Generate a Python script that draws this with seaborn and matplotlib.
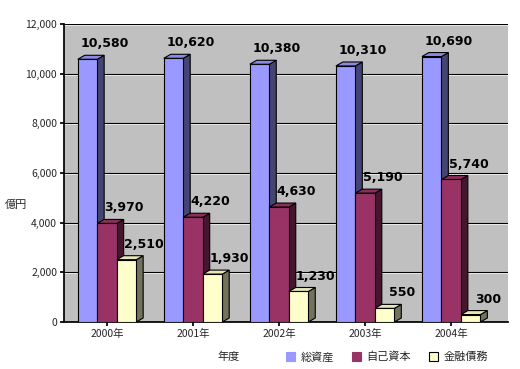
import numpy as np
import pandas as pd
import seaborn as sns
import matplotlib.pyplot as plt
from matplotlib.patches import Polygon, Patch
from matplotlib.colors import to_rgb

years = ['2000年', '2001年', '2002年', '2003年', '2004年']
total_assets = [10580, 10620, 10380, 10310, 10690]
equity = [3970, 4220, 4630, 5190, 5740]
debt = [2510, 1930, 1230, 550, 300]
series = ['総資産', '自己資本', '金融債務']
colors = ['#9999FF', '#993366', '#FFFFCC']

df = pd.DataFrame({'year': years * 3,
                   'series': np.repeat(series, len(years)),
                   'value': total_assets + equity + debt})

sns.set_theme(style='white')
plt.rcParams['font.family'] = ['Noto Sans CJK JP', 'DejaVu Sans']

fig = plt.figure(figsize=(5.2, 3.69), dpi=100)
ax = fig.add_axes([64 / 520, 47 / 369, 444 / 520, 298 / 369])
ax.set_facecolor('#C0C0C0')

sns.barplot(data=df, x='year', y='value', hue='series', palette=colors,
            saturation=1, width=0.68, edgecolor='black', linewidth=0.8,
            legend=False, ax=ax, zorder=3)

ax.set_ylim(0, 12000)
ax.set_xlim(-0.5, 4.66)
ax.set_yticks(range(0, 12001, 2000))
ax.yaxis.set_major_formatter(plt.FuncFormatter(lambda v, p: f'{int(v):,}'))
ax.grid(axis='y', color='black', linewidth=0.8, zorder=0)
for y in range(2000, 12001, 2000):
    ax.axhline(y - 40, color='white', linewidth=0.6, zorder=0)

# pseudo 3D faces on each bar
dx = 0.08
dy = 160
for bar in ax.patches:
    x0, w, h = bar.get_x(), bar.get_width(), bar.get_height()
    r, g, b = to_rgb(bar.get_facecolor())
    side = (r * 0.45, g * 0.45, b * 0.45)
    top = (min(1, r * 0.9), min(1, g * 0.9), min(1, b * 0.9))
    ax.add_patch(Polygon([(x0 + w, 0), (x0 + w + dx, dy), (x0 + w + dx, h + dy),
                          (x0 + w, h)], closed=True, facecolor=side,
                         edgecolor='black', linewidth=0.8, zorder=2.9))
    ax.add_patch(Polygon([(x0, h), (x0 + dx, h + dy), (x0 + w + dx, h + dy),
                          (x0 + w, h)], closed=True, facecolor=top,
                         edgecolor='black', linewidth=0.8, zorder=3.1))
    ax.text(x0 + w * 0.5 + 0.2, h + dy + 200, f'{int(h):,}', ha='center',
            va='bottom', fontsize=9, fontweight='bold', color='black',
            family=['DejaVu Sans'], zorder=4)

for s in ['top', 'right']:
    ax.spines[s].set_visible(False)
ax.spines['left'].set_color('black')
ax.spines['bottom'].set_color('black')
ax.tick_params(axis='both', labelsize=7.5, length=3, color='black',
               left=True, bottom=True, pad=2)
ax.set_xlabel('')
ax.set_ylabel('')

fig.text(5 / 520, 1 - 205 / 369, '億円', fontsize=8, va='center', ha='left')
fig.text(217 / 520, 1 - 357 / 369, '年度', fontsize=8, va='center', ha='left')

handles = [Patch(facecolor=c, edgecolor='black' if i == 2 else c, linewidth=0.8)
           for i, c in enumerate(colors)]
fig.legend(handles, series, loc='center left', bbox_to_anchor=(282 / 520, 1 - 357 / 369),
           ncol=3, frameon=False, fontsize=8, handlelength=0.8, handleheight=0.8,
           handletextpad=0.5, columnspacing=1.6, borderaxespad=0)

fig.savefig('out.png', dpi=100)
